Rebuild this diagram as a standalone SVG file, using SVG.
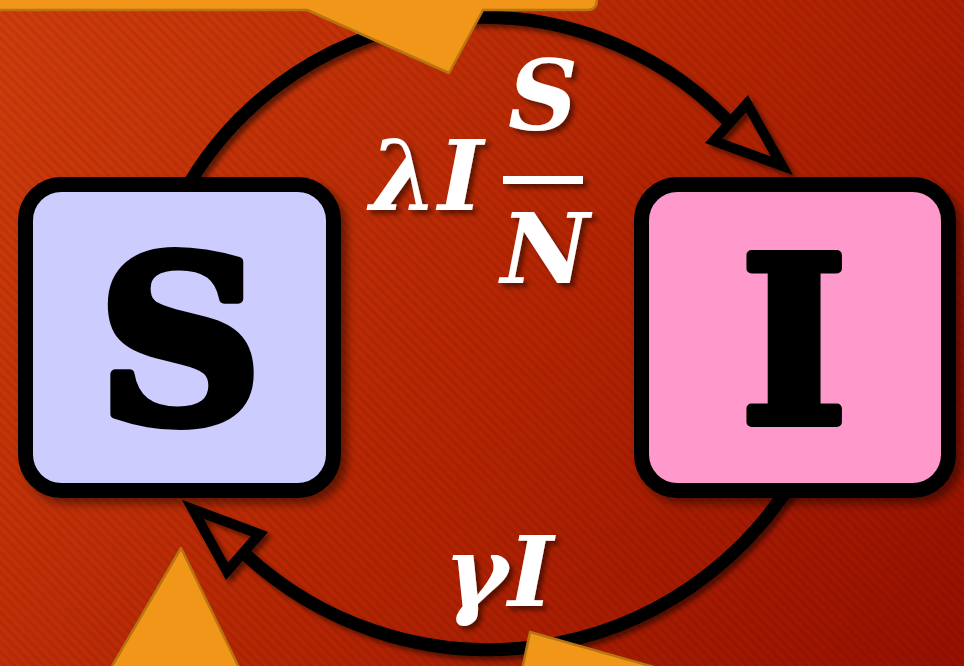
<svg xmlns="http://www.w3.org/2000/svg" width="964" height="666" viewBox="0 0 964 666">
  <defs>
    <linearGradient id="bg" x1="0" y1="0" x2="964" y2="666" gradientUnits="userSpaceOnUse">
      <stop offset="0" stop-color="#cf3d0c"/>
      <stop offset="0.5" stop-color="#b62603"/>
      <stop offset="1" stop-color="#971000"/>
    </linearGradient>
    <pattern id="stripes" width="7" height="7" patternUnits="userSpaceOnUse" patternTransform="rotate(-45)">
      <rect width="3" height="7" fill="#000" fill-opacity="0.07"/>
    </pattern>
    <filter id="shadow" x="-20%" y="-20%" width="150%" height="150%">
      <feDropShadow dx="6" dy="6" stdDeviation="5" flood-color="#000" flood-opacity="0.45"/>
    </filter>
    <filter id="tshadow" x="-20%" y="-20%" width="150%" height="150%">
      <feDropShadow dx="4" dy="4" stdDeviation="2.5" flood-color="#000" flood-opacity="0.5"/>
    </filter>
  </defs>
  <style>
    .callout { fill: #f19619; stroke: #b8740f; stroke-width: 2.5; stroke-linejoin: round; }
    .arc { fill: none; stroke: #000; stroke-width: 13; }
    .head { fill: none; stroke: #000; stroke-width: 10; stroke-linejoin: miter; stroke-miterlimit: 10; }
    .box { stroke: #000; stroke-width: 15; }
    .letter { font-family: "DejaVu Serif", "Liberation Serif", serif; font-weight: bold; font-size: 228px; fill: #000; stroke: #000; stroke-width: 10; stroke-linejoin: round; text-anchor: middle; }
    .math { font-family: "DejaVu Serif", "Liberation Serif", serif; font-weight: bold; font-style: italic; font-size: 97px; fill: #fff; }
  </style>

  <rect width="964" height="666" fill="url(#bg)"/>
  <rect width="964" height="666" fill="url(#stripes)"/>

  <g id="connectors" filter="url(#tshadow)">
    <path class="arc" d="M 180 200 A 342 342 0 0 1 727 120"/>
    <polygon class="head" points="782,165.7 747,103.6 713.6,140.9"/>
    <path class="arc" d="M 793 480 A 358 358 0 0 1 246 555"/>
    <polygon class="head" points="192.7,509.2 259.5,534.1 226.9,571.4"/>
  </g>

  <g id="callouts">
    <path class="callout" d="M -10 -60 L 597 -60 L 597 0 Q 597 10 587 10 L 483 10 L 449 73 L 307 10 L -10 10 Z"/>
    <path class="callout" d="M 181 548 L 245 680 L 104 680 Z"/>
    <path class="callout" d="M 530 632 L 700 680 L 520 680 Z"/>
  </g>

  <g id="node-S" filter="url(#shadow)">
    <rect class="box" x="25.5" y="184.5" width="308" height="306" rx="36" fill="#ccccff"/>
    <text class="letter" x="180" y="422">S</text>
  </g>

  <g id="node-I" filter="url(#shadow)">
    <rect class="box" x="641.5" y="184.5" width="307" height="306" rx="36" fill="#ff99cc"/>
    <text class="letter" x="794" y="422">I</text>
  </g>

  <g id="labels" filter="url(#tshadow)">
    <text class="math" x="370" y="210">λI</text>
    <text class="math" x="543" y="130" text-anchor="middle">S</text>
    <rect x="503" y="176" width="80" height="8" fill="#fff"/>
    <text class="math" x="545" y="283" text-anchor="middle">N</text>
    <text class="math" x="444" y="606">γI</text>
  </g>
</svg>
